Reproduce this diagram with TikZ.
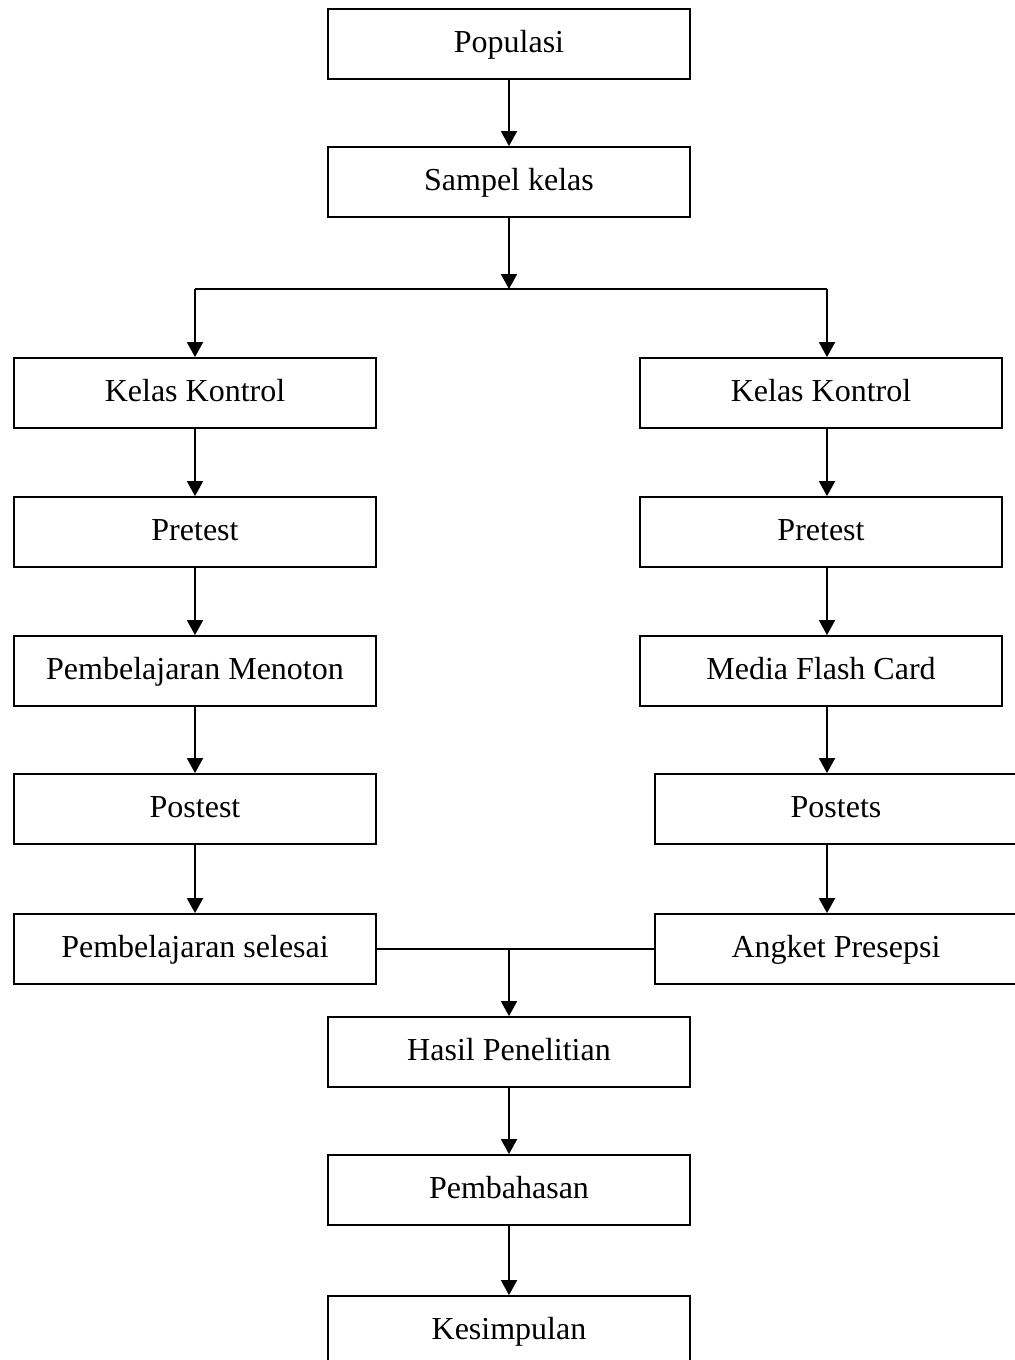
\documentclass[tikz,border=0pt]{standalone}
\usepackage{fontspec}
\setmainfont{Liberation Serif}
\usetikzlibrary{arrows.meta}
\begin{document}
\begin{tikzpicture}[x=0.5pt,y=-0.5pt,
    kotak/.style={draw,line width=0.9pt,minimum width=181pt,minimum height=35pt,
      inner sep=0pt,text height=12pt,text depth=4pt,font=\fontsize{16}{18}\selectfont},
    panah/.style={-{Triangle[width=8pt,length=7.5pt]},line width=0.9pt}]
    \useasboundingbox (0,0) rectangle (1015,1360);
    \clip (0,0) rectangle (1015,1360);
    % tengah
    \node[kotak] (pop) at (509,44) {Populasi};
    \node[kotak] (sampel) at (509,182) {Sampel kelas};
    \node[kotak] (hasil) at (509,1052) {Hasil Penelitian};
    \node[kotak] (bahas) at (509,1190) {Pembahasan};
    \node[kotak] (simpul) at (509,1331) {Kesimpulan};
    % kiri
    \node[kotak] (kk1) at (195,393) {Kelas Kontrol};
    \node[kotak] (pre1) at (195,532) {Pretest};
    \node[kotak] (ajar1) at (195,671) {Pembelajaran Menoton};
    \node[kotak] (post1) at (195,809) {Postest};
    \node[kotak] (selesai) at (195,949) {Pembelajaran selesai};
    % kanan
    \node[kotak] (kk2) at (821,393) {Kelas Kontrol};
    \node[kotak] (pre2) at (821,532) {Pretest};
    \node[kotak] (media) at (821,671) {Media Flash Card};
    \node[kotak] (post2) at (836,809) {Postets};
    \node[kotak] (angket) at (836,949) {Angket Presepsi};

    \coordinate (cabang) at (509,289);
    \coordinate (kiri) at (kk1.north |- cabang);
    \coordinate (kanan) at (827,289);
    \draw[panah] (pop) -- (sampel);
    \draw[panah] (sampel) -- (cabang);
    \draw[line width=0.9pt] (kiri) -- (kanan);
    \draw[panah] (kiri) -- (kk1);
    \draw[panah] (pre1 |- kk1.south) -- (pre1);
    \draw[panah] (pre1) -- (ajar1);
    \draw[panah] (ajar1) -- (post1);
    \draw[panah] (post1) -- (selesai);
    \draw[panah] (kanan) -- (kanan |- kk2.north);
    \draw[panah] (kk2.south -| kanan) -- (pre2.north -| kanan);
    \draw[panah] (pre2.south -| kanan) -- (media.north -| kanan);
    \draw[panah] (media.south -| kanan) -- (post2.north -| kanan);
    \draw[panah] (post2.south -| kanan) -- (angket.north -| kanan);

    \draw[line width=0.9pt] (selesai) -- (angket);
    \coordinate (gabung) at (hasil.north |- selesai);
    \draw[panah] (gabung) -- (hasil);
    \draw[panah] (hasil) -- (bahas);
    \draw[panah] (bahas) -- (simpul);
  \end{tikzpicture}
\end{document}
